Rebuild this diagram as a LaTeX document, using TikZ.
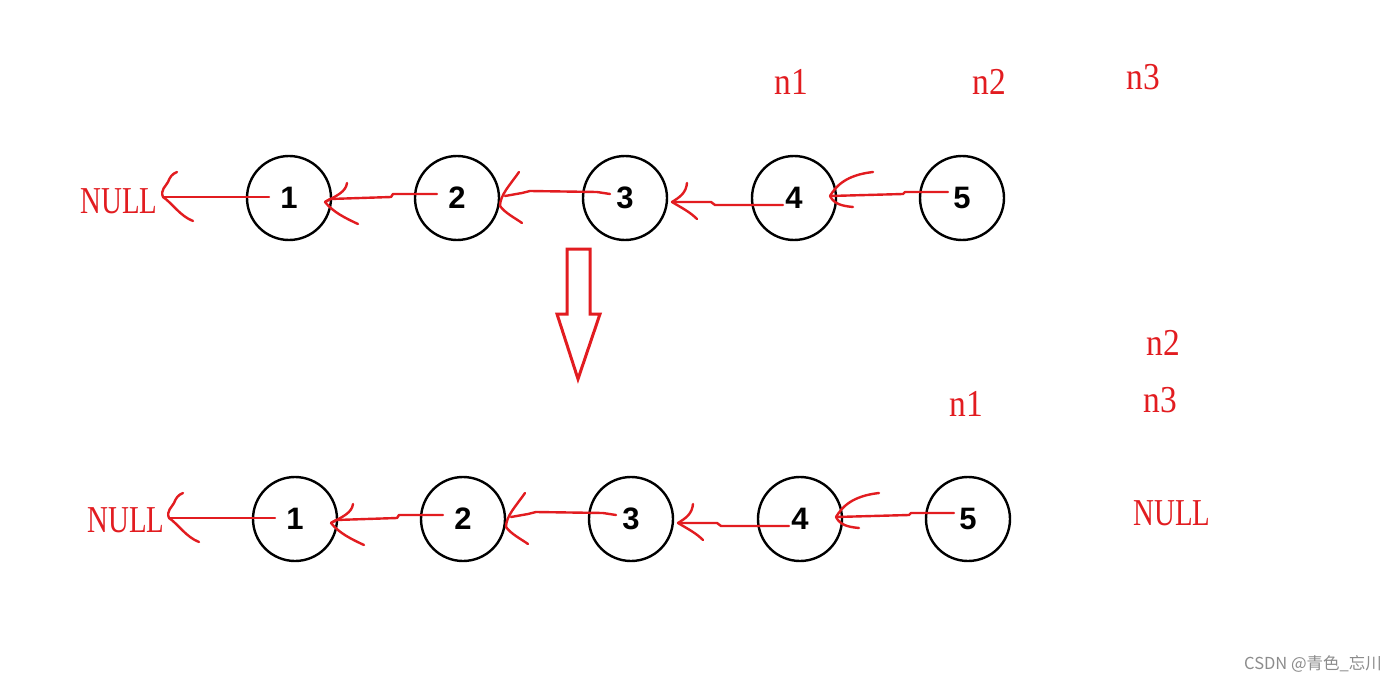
\documentclass[tikz,border=0pt]{standalone}
\usepackage{fontspec}
\setmainfont{Liberation Serif}
\newfontfamily\numfont{Liberation Sans}
\newfontfamily\cjk{Noto Sans CJK SC}
\definecolor{pen}{RGB}{226,28,32}
\newcommand{\myrow}[1]{%
  \node[cnode] (#1c1) at (289,198) {1};
  \node[cnode] (#1c2) at (457,198) {2};
  \node[cnode] (#1c3) at (625,198) {3};
  \node[cnode] (#1c4) at (794,198) {4};
  \node[cnode] (#1c5) at (962,198) {5};
  % named end points of the hand-drawn arrows
  \coordinate (#1s1) at (269,197); \coordinate (#1t1) at (163,197);
  \coordinate (#1s2) at (437,194); \coordinate (#1t2) at (325,202);
  \coordinate (#1s3) at (610,194); \coordinate (#1t3) at (505,196);
  \coordinate (#1s4) at (783,205); \coordinate (#1t4) at (672,202);
  \coordinate (#1s5) at (948,192); \coordinate (#1t5) at (830,196);
  % 1 -> NULL
  \draw[penline] (#1s1) -- (#1t1);
  \draw[penline] (#1t1) .. controls (160,190) and (166,186) .. (168,182)
                 .. controls (170,177) and (172,174) .. (177,172);
  \draw[penline] (#1t1) .. controls (172,203) and (180,216) .. (193,221);
  % 2 -> 1
  \draw[penline] (#1s2) -- (393,194) -- (391,197) -- (330,199) -- (#1t2);
  \draw[penline] (#1t2) .. controls (336,196) and (346,192) .. (347,183);
  \draw[penline] (#1t2) .. controls (333,212) and (345,218) .. (358,224);
  % 3 -> 2
  \draw[penline] (#1s3) -- (597,192) -- (530,191) -- (522,193) -- (#1t3);
  \draw[penline] (519,172) .. controls (510,185) and (500,195) .. (500,206)
                 .. controls (505,213) and (515,218) .. (522,223);
  % 4 -> 3
  \draw[penline] (#1s4) -- (715,205) -- (711,202) -- (#1t4);
  \draw[penline] (#1t4) .. controls (680,197) and (686,193) .. (687,183);
  \draw[penline] (#1t4) .. controls (682,208) and (690,212) .. (697,219);
  % 5 -> 4
  \draw[penline] (#1s5) -- (905,192) -- (903,194) -- (#1t5);
  \draw[penline] (#1t5) .. controls (836,186) and (846,175) .. (873,172);
  \draw[penline] (#1t5) .. controls (834,204) and (842,206) .. (853,207);
}
\begin{document}
\begin{tikzpicture}[x=1pt,y=-1pt,
  cnode/.style={circle,draw=black,line width=2.4pt,minimum size=84pt,inner sep=0pt,
    font=\numfont\bfseries\fontsize{31}{31}\selectfont},
  penline/.style={draw=pen,line width=2.4pt,line cap=round,line join=round},
  redtxt/.style={text=pen,inner sep=0pt,font=\fontsize{38}{38}\selectfont,xscale=0.88},
  nulltxt/.style={text=pen,inner sep=0pt,font=\fontsize{38}{38}\selectfont,xscale=0.76},
  bigarrow/.style={draw=pen,line width=3pt,line join=miter}]
\useasboundingbox[fill=white] (0,0) rectangle (1400,682);

% top row
\node[nulltxt] (nullA) at (119,201) {NULL};
\myrow{t}
\node[redtxt] (tn1) at (791,82) {n1};
\node[redtxt] (tn2) at (989,82) {n2};
\node[redtxt] (tn3) at (1143,77) {n3};

% big hollow arrow
\draw[bigarrow] (567,249) -- (590,249) -- (590,314) -- (600,314) -- (578,379)
  -- (557,314) -- (567,314) -- cycle;

% bottom row
\node[nulltxt] (nullB) at (126,520) {NULL};
\begin{scope}[shift={(6,321)}]
\myrow{b}
\end{scope}
\node[redtxt] (bn1) at (966,404) {n1};
\node[redtxt] (bn2) at (1163,343) {n2};
\node[redtxt] (bn3) at (1160,400) {n3};
\node[nulltxt] (nullC) at (1172,513) {NULL};

% watermark
\node[text=black!45,inner sep=0pt,font=\cjk\fontsize{16.5}{16.5}\selectfont] (wm) at (1313,664) {CSDN @青色\_忘川};
\end{tikzpicture}
\end{document}
